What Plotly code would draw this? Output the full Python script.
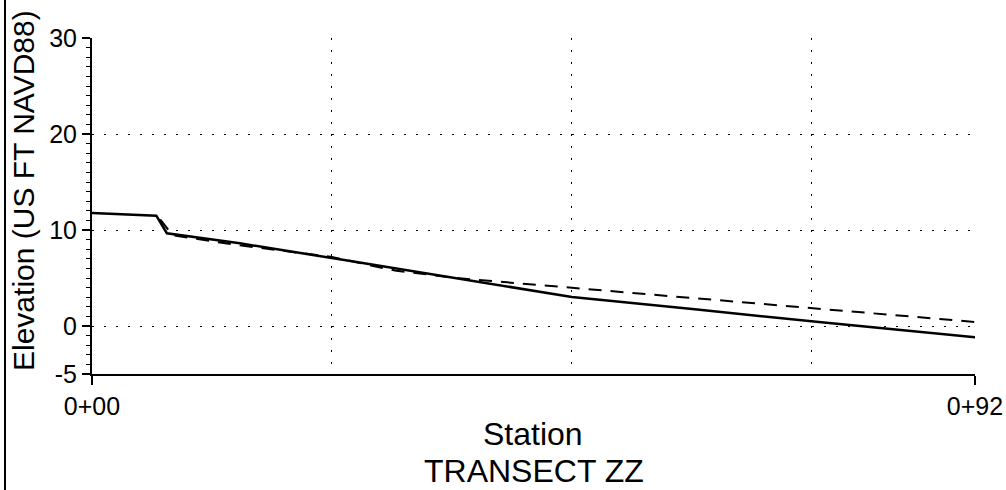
import plotly.graph_objects as go

# Solid profile (station ft, elevation ft)
solid_x = [0, 6.7, 7.8, 15.4, 25.8, 38.3, 50.0, 62.8, 76.0, 92.0]
solid_y = [11.77, 11.49, 9.66, 8.61, 6.95, 4.88, 3.02, 1.74, 0.38, -1.18]

# Dashed profile
dash_x = [7.1, 8.4, 15.0, 25.0, 29.3, 31.7, 38.3, 50.6, 75.9, 92.0]
dash_y = [11.1, 9.45, 8.45, 7.2, 6.25, 5.75, 4.97, 3.92, 1.77, 0.42]

x_tickvals = [0, 92]
x_ticktext = ["0+00", "0+92"]
x_gridvals = [25, 50, 75]
y_tickvals = [-5, 0, 10, 20, 30]
y_ticktext = ["-5", "0", "10", "20", "30"]

FONT = "Liberation Sans, Arial, sans-serif"
W, H = 1006, 490
L, R, T, B = 92, 31, 38, 116
PW, PH = W - L - R, H - T - B

fig = go.Figure()
fig.add_trace(go.Scatter(x=dash_x, y=dash_y, mode="lines",
                         line=dict(color="black", width=2, dash="13px,9px"),
                         showlegend=False, hoverinfo="skip"))
fig.add_trace(go.Scatter(x=solid_x, y=solid_y, mode="lines",
                         line=dict(color="black", width=2.5),
                         showlegend=False, hoverinfo="skip"))

fig.update_layout(
    width=W, height=H,
    margin=dict(l=L, r=R, t=T, b=B, autoexpand=False),
    paper_bgcolor="white", plot_bgcolor="white",
    font=dict(family=FONT, color="black"),
    xaxis=dict(
        range=[0, 92], tickmode="array", tickvals=x_tickvals, ticktext=x_ticktext,
        ticks="outside", ticklen=9, tickwidth=2, tickcolor="black",
        tickfont=dict(size=25, family=FONT, color="black"),
        showline=True, linecolor="black", linewidth=2, mirror=False,
        showgrid=True, gridcolor="black", gridwidth=1, griddash="1.5px,10.5px",
        zeroline=False, automargin=False,
        minor=dict(tickmode="array", tickvals=x_gridvals, ticks="", showgrid=True,
                   gridcolor="black", gridwidth=1, griddash="1.5px,10.5px"),
    ),
    yaxis=dict(
        range=[-5, 30], tickmode="array", tickvals=y_tickvals, ticktext=y_ticktext,
        ticks="outside", ticklen=8, tickwidth=2, tickcolor="black",
        tickfont=dict(size=25, family=FONT, color="black"),
        showline=True, linecolor="black", linewidth=2, mirror=False,
        showgrid=True, gridcolor="black", gridwidth=1, griddash="1.5px,10.5px",
        zeroline=False, automargin=False,
        minor=dict(tickmode="linear", tick0=0, dtick=1, ticks="outside", ticklen=4,
                   tickwidth=1, tickcolor="black", showgrid=False),
    ),
    annotations=[
        dict(text="Station", xref="paper", yref="paper", x=(533 - 92) / PW,
             y=(374 - 434) / PH, xanchor="center", yanchor="middle", showarrow=False,
             font=dict(size=32, family=FONT, color="black")),
        dict(text="TRANSECT ZZ", xref="paper", yref="paper", x=(534 - 92) / PW,
             y=(374 - 471) / PH, xanchor="center", yanchor="middle", showarrow=False,
             font=dict(size=32, family=FONT, color="black")),
        dict(text="Elevation (US FT NAVD88)", xref="paper", yref="paper",
             x=(23 - 92) / PW, y=(374 - 191) / PH, xanchor="center", yanchor="middle",
             textangle=-90, showarrow=False,
             font=dict(size=30, family=FONT, color="black")),
    ],
    shapes=[
        dict(type="line", xref="paper", yref="paper",
             x0=(5 - 92) / PW, x1=(5 - 92) / PW, y0=-B / PH, y1=1 + T / PH,
             line=dict(color="black", width=2)),
    ],
)

fig.write_html("out.html",
               config={"displayModeBar": False},
               post_script="document.body.style.margin='0';document.body.style.overflow='hidden';")
